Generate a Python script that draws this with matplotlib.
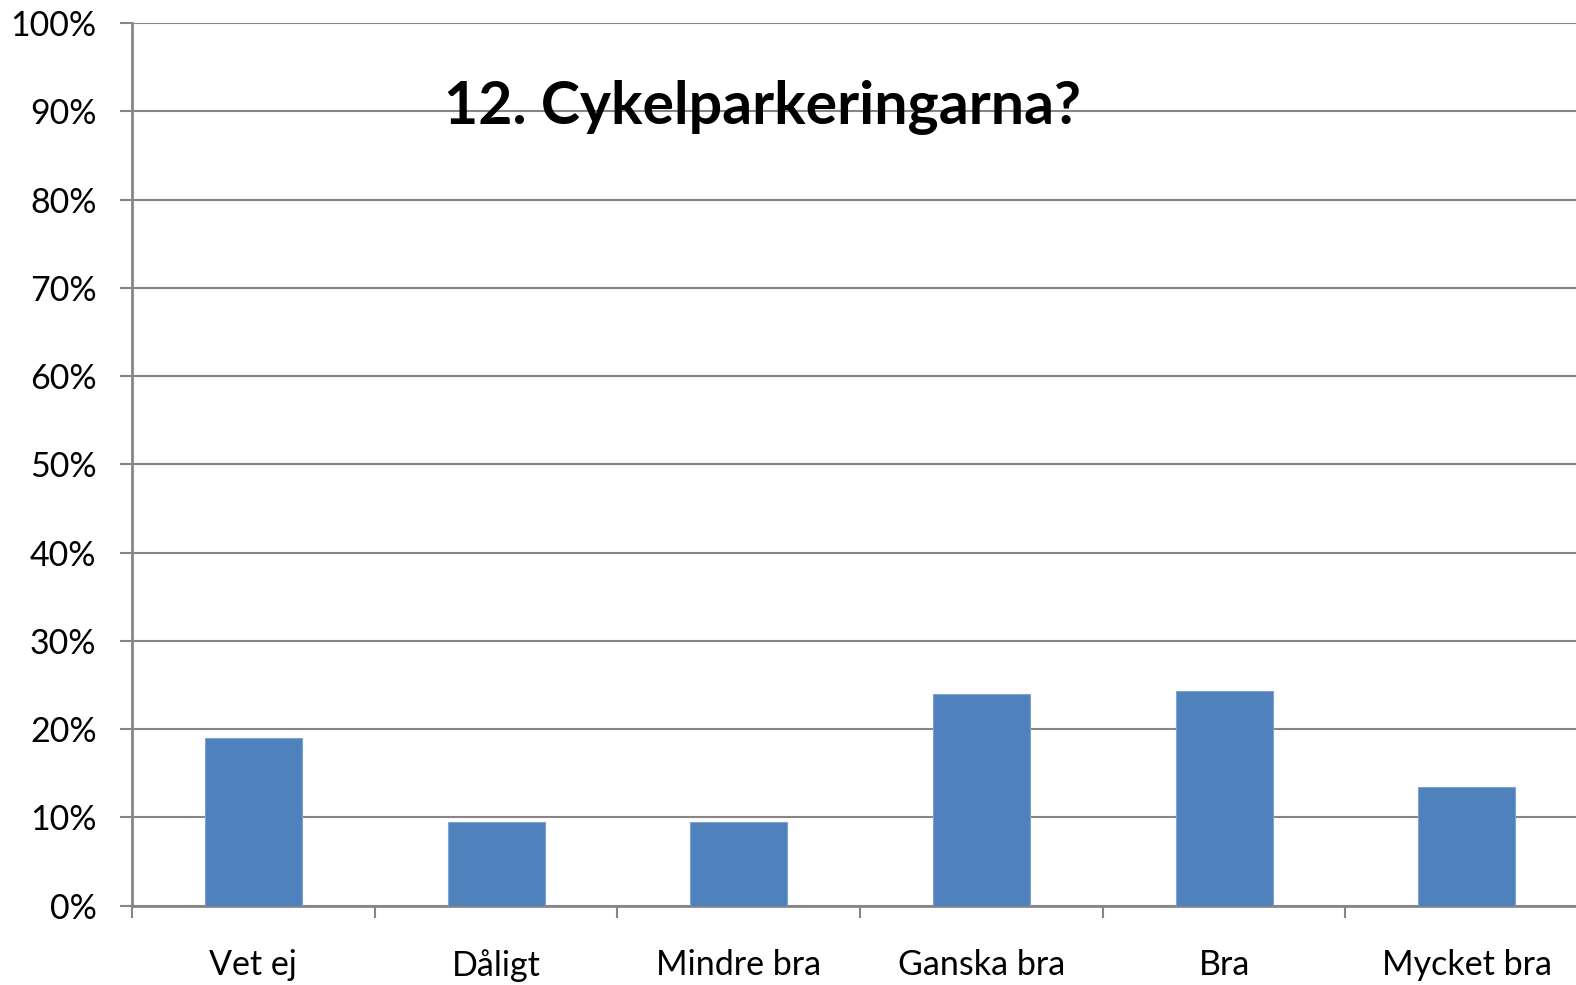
import matplotlib
matplotlib.use("Agg")
import matplotlib.pyplot as plt
from matplotlib.ticker import FuncFormatter, FixedLocator

plt.rcParams['font.family'] = ['Lato', 'DejaVu Sans']

categories = ["Vet ej", "Dåligt", "Mindre bra", "Ganska bra", "Bra", "Mycket bra"]
shares = [0.19, 0.095, 0.095, 0.240, 0.243, 0.135]
title = "12. Cykelparkeringarna?"

fig = plt.figure(figsize=(15.76, 9.85), dpi=100)
# axes runs a little past the right edge of the picture, as in the original
ax = fig.add_axes([0.0838, 0.0805, 0.9239, 0.8961])

x = range(len(categories))
ax.bar(x, shares, width=0.4, color="#4F81BD", edgecolor="#7FA2CF", linewidth=0.8, zorder=3)

ax.set_xlim(-0.5, len(categories) - 0.5)
ax.set_ylim(0, 1)
ax.set_yticks([i / 10 for i in range(11)])
ax.yaxis.set_major_formatter(FuncFormatter(lambda v, p: f"{v * 100:.0f}%"))
ax.yaxis.grid(True, color="#868686", linewidth=1.5, zorder=0)

ax.set_xticks(list(x))
ax.set_xticklabels(categories)
ax.xaxis.set_minor_locator(FixedLocator([i - 0.5 for i in range(len(categories) + 1)]))
ax.tick_params(axis="x", which="major", length=0, pad=31, labelsize=24.5)
ax.tick_params(axis="x", which="minor", length=8.6, width=1.5, color="#868686", direction="out")
ax.tick_params(axis="y", length=8.6, width=1.5, color="#868686", pad=17, labelsize=24.5)

for side in ["top", "right"]:
    ax.spines[side].set_visible(False)
for side in ["left", "bottom"]:
    ax.spines[side].set_color("#868686")
    ax.spines[side].set_linewidth(2)

fig.text(0.484, 0.891, title, fontsize=42.5, fontweight="bold", ha="center", va="center")

fig.savefig("out.png", dpi=100)
